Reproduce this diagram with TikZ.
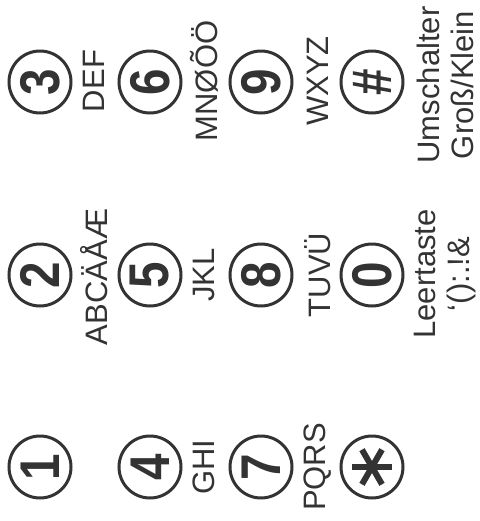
\documentclass[tikz,border=0pt]{standalone}
\usepackage{fontspec}
\setmainfont{Liberation Sans}
\usepackage{graphicx}
\definecolor{ink}{HTML}{333333}
\newcommand{\keydigit}[1]{\scalebox{0.85}[1]{#1}}

\begin{document}
\begin{tikzpicture}[x=0.5pt, y=-0.5pt, color=ink, text=ink,
  key/.style={circle, draw, line width=1.5pt, minimum size=31pt, inner sep=0pt,
    rotate=90, font=\fontsize{28}{28}\selectfont\bfseries},
  letters/.style={rotate=90, inner sep=0pt, align=center,
    font=\fontsize{15.5}{17}\selectfont}]
  \useasboundingbox (0,0) rectangle (480,521);
  % tasten
  \node[key] (k1) at (40,467) {\keydigit{1}};
  \node[key] (k2) at (40,275) {\keydigit{2}};
  \node[key] (k3) at (40,82)  {\keydigit{3}};
  \node[key] (k4) at (150,467) {\keydigit{4}};
  \node[key] (k5) at (150,275) {\keydigit{5}};
  \node[key] (k6) at (150,82)  {\keydigit{6}};
  \node[key] (k7) at (261,467) {\keydigit{7}};
  \node[key] (k8) at (261,275) {\keydigit{8}};
  \node[key] (k9) at (261,82)  {\keydigit{9}};
  \node[key] (kstar) at (372,467) {};
  \node[key] (k0) at (372,275) {\keydigit{0}};
  \node[key] (khash) at (372,82) {\keydigit{\#}};
  % stern
  \foreach \a in {0,60,120}
    \draw[line width=3pt, shift={(kstar.center)}] (\a:20) -- (\a+180:20);
  % buchstaben
  \node[letters] (l2) at (94,277) {ABCÄÅÆ};
  \node[letters] (l3) at (94,81)  {DEF};
  \node[letters] (l4) at (204,467) {GHI};
  \node[letters] (l5) at (204,275) {JKL};
  \node[letters] (l6) at (204,81)  {MNØÕÖ};
  \node[letters] (l7) at (318,467) {PQRS};
  \node[letters] (l8) at (318,275) {TUVÜ};
  \node[letters] (l9) at (318,81)  {WXYZ};
  \node[letters] (l0) at (445,274) {Leertaste\\‘():.!\&};
  \node[letters] (lhash) at (445,85) {Umschalter\\Groß/Klein};
\end{tikzpicture}
\end{document}
